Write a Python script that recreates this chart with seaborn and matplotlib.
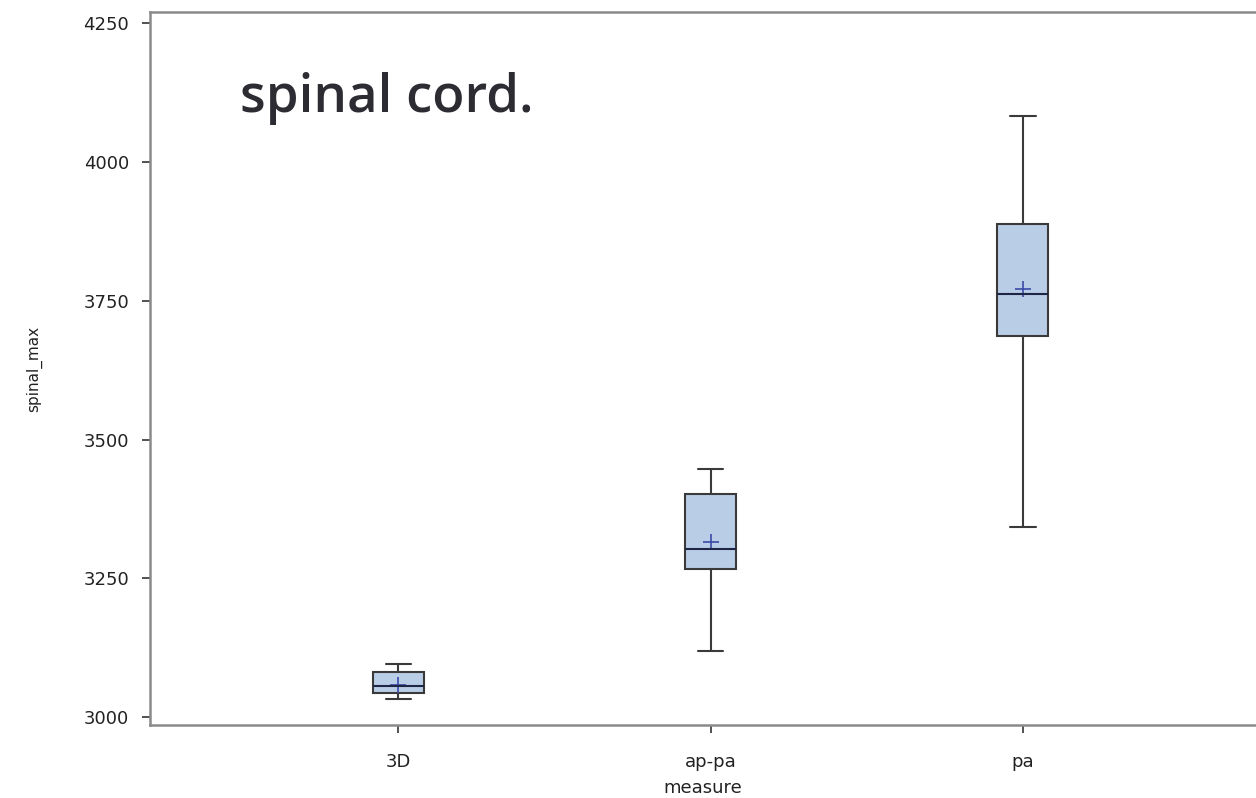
import numpy as np
import pandas as pd
import matplotlib
matplotlib.use("Agg")
import matplotlib.pyplot as plt
import seaborn as sns

# ---- data ----
categories = ["3D", "ap-pa", "pa"]
# five-number summaries: min, Q1, median, Q3, max
summary_3d = [3032, 3043, 3056, 3081, 3095]
summary_appa = [3119, 3266, 3303, 3402, 3447]
summary_pa = [3342, 3686, 3762, 3889, 4084]
means = [3058, 3315, 3772]
yticks = [3000, 3250, 3500, 3750, 4000, 4250]
title_text = "spinal cord."
xlabel = "measure"
ylabel = "spinal_max"

df = pd.DataFrame({
    "measure": np.repeat(categories, 5),
    "spinal_max": summary_3d + summary_appa + summary_pa,
})
df_mean = pd.DataFrame({"measure": categories, "spinal_max": means})

sns.set_theme(style="white")
plt.rcParams["font.family"] = ["DejaVu Sans"]

fig = plt.figure(figsize=(12.56, 7.98), dpi=100)
ax = fig.add_axes([150 / 1256, (798 - 725) / 798, 1 - 150 / 1256, (725 - 12.3) / 798])

edge = "#3a3a3a"
sns.boxplot(
    data=df, x="measure", y="spinal_max", order=categories, ax=ax,
    whis=(0, 100), width=0.163, color="#b9cde6", saturation=1,
    linecolor=edge, linewidth=1.5, fliersize=0,
    medianprops=dict(color="#1e2545", linewidth=1.5),
)
sns.pointplot(
    data=df_mean, x="measure", y="spinal_max", order=categories, ax=ax,
    errorbar=None, linestyle="none", marker="+", color="#3a4aa8",
    markersize=11, markeredgewidth=1.2,
)

ax.set_xlim(-0.796, 2.747)
ax.set_ylim(2985.6, 4270)
ax.set_yticks(yticks)
ax.set_yticklabels([str(t) for t in yticks])

for s in ["left", "top", "bottom"]:
    ax.spines[s].set_visible(True)
    ax.spines[s].set_color("#8a8a8a")
    ax.spines[s].set_linewidth(1.8)
ax.spines["right"].set_visible(False)

ax.tick_params(axis="both", which="both", direction="out", length=6, width=1.2,
               color="#333333", labelsize=13, labelcolor="#222222",
               left=True, bottom=True)
ax.tick_params(axis="y", pad=9)
ax.tick_params(axis="x", pad=14)
ax.set_xlabel(xlabel, fontsize=13, color="#222222", labelpad=6)
ax.set_ylabel(ylabel, fontsize=11, color="#222222", labelpad=30)

fig.text(240 / 1256, (798 - 112) / 798, title_text, fontsize=38,
         family="Open Sans", fontweight="semibold", color="#2e2c33",
         va="baseline", ha="left")

fig.savefig("out.png", dpi=100)
